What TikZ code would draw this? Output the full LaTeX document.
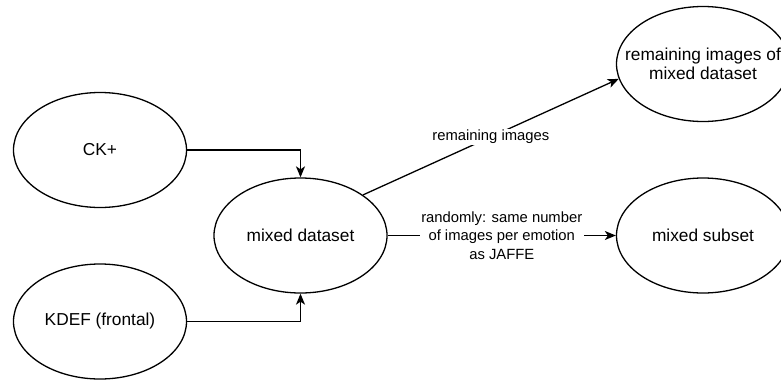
\documentclass[tikz,border=0pt]{standalone}
\usepackage{fontspec}
\setmainfont{Liberation Sans}
\usetikzlibrary{shapes.geometric,arrows.meta}
\tikzset{
  blob/.style={ellipse, draw=black, line width=1.3pt, inner sep=0pt,
    minimum width=173pt, minimum height=115pt,
    font=\fontsize{17.3}{20}\selectfont},
  flow/.style={draw=black, line width=1.3pt,
    -{Stealth[length=11pt, width=9pt, inset=3pt]}},
  edgelabel/.style={fill=white, inner sep=1.5pt, align=center,
    font=\fontsize{14.8}{18.5}\selectfont}
}
\begin{document}
\begin{tikzpicture}[x=1pt, y=-1pt]
  \useasboundingbox (0,0) rectangle (781,383);
  \clip (0,0) rectangle (781,383);

  % source datasets
  \node[blob] (ck)   at (100,150)   {CK+};
  \node[blob] (kdef) at (100,321.5) {KDEF (frontal)};

  % merged dataset
  \node[blob] (mixed) at (300.5,235.5) {mixed dataset};

  % outputs
  \node[blob] (rem) at (703,64) {};
  \node[align=center, font=\fontsize{17.3}{19.5}\selectfont] (remtxt) at (rem)
    {remaining images of\\mixed dataset};
  \node[blob] (sub) at (703,235.5) {mixed subset};

  % merging
  \draw[flow] (ck.east) -| (mixed.north);
  \draw[flow] (kdef.east) -| (mixed.south);

  % splitting
  \draw[flow] (mixed.33.5) -- node[edgelabel] (lblrem) {remaining images} (rem.190);
  \draw[flow] (mixed.east) -- node[edgelabel] (lblsub)
    {randomly: same number\\of images per emotion\\as JAFFE} (sub.west);
\end{tikzpicture}
\end{document}
